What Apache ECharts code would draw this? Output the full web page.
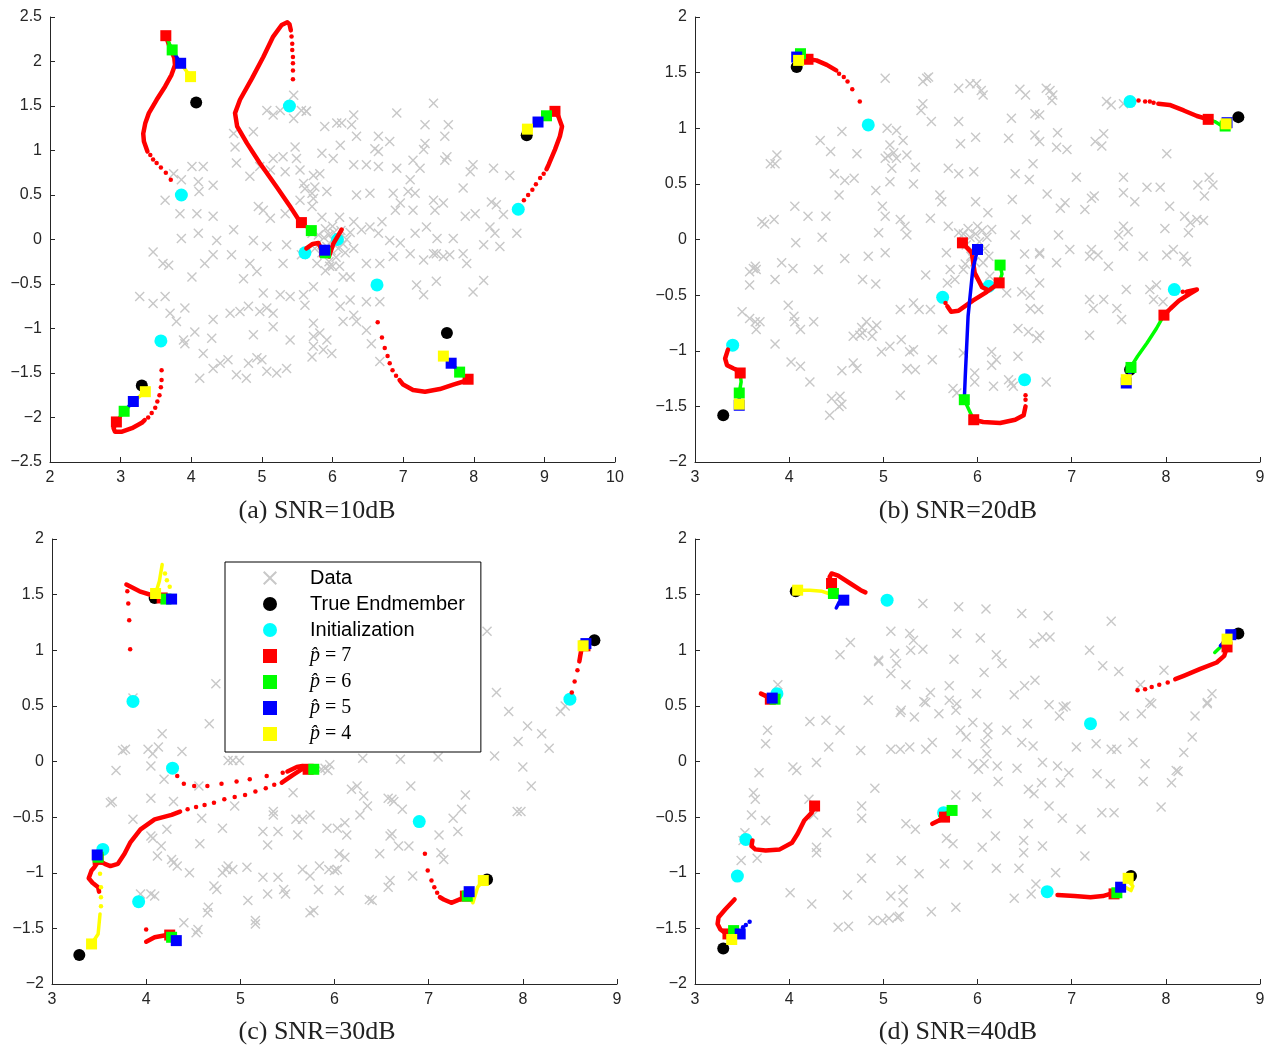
<!DOCTYPE html>
<html>
<head>
<meta charset="utf-8">
<script src="https://cdn.jsdelivr.net/npm/echarts@6/dist/echarts.min.js"></script>
<style>
  html, body { margin: 0; background: #fff; }
  #chart { width: 1276px; height: 1049px; }
</style>
</head>
<body>
<div id="chart"></div>
<script>
// ---------- panel (a) SNR=10dB ----------
const aData = [
  [5.45,1.62],[5.07,1.45],[5.16,1.40],[5.26,1.45],[5.56,1.45],[5.45,1.36],[5.63,1.44],[4.60,1.19],[4.88,1.21],[4.62,1.04],
  [5.47,1.04],[5.16,0.91],[5.30,0.93],[5.49,0.91],[4.64,0.86],[4.97,0.82],[4.83,0.71],[5.12,0.78],[5.33,0.76],[5.54,0.78],
  [5.73,0.72],[4.01,0.82],[4.17,0.82],[3.75,0.74],[3.86,0.67],[4.10,0.65],[4.11,0.54],[4.31,0.61],[3.63,0.44],[3.84,0.29],
  [4.08,0.29],[4.31,0.26],[4.60,0.11],[4.95,0.37],[5.02,0.33],[5.12,0.24],[5.33,0.29],[5.54,0.44],[5.59,0.63],[5.71,0.52],
  [5.71,0.37],[3.46,-0.14],[3.86,0.01],[4.10,0.07],[4.36,-0.01],[4.88,-0.01],[5.07,-0.08],[5.35,-0.06],[5.71,0.07],
  [5.63,1.44],[6.91,1.42],[7.43,1.53],[5.89,1.27],[6.06,1.31],[6.13,1.31],[6.27,1.29],[6.30,1.40],[7.31,1.29],[7.64,1.29],
  [6.34,1.16],[6.65,1.16],[6.11,1.06],[5.85,0.97],[6.01,0.91],[6.60,1.02],[6.65,0.99],[6.81,1.10],[7.31,1.08],[7.29,1.01],
  [7.59,1.16],[7.62,0.93],[6.30,0.84],[6.48,0.84],[6.65,0.82],[6.91,0.80],[7.14,0.89],[7.24,0.80],[7.59,0.89],[7.85,0.58],
  [7.99,0.84],[7.95,0.76],[8.28,0.80],[8.51,0.72],[5.82,0.74],[5.75,0.59],[5.73,0.46],[5.92,0.54],[5.61,0.57],[6.34,0.50],
  [6.53,0.52],[6.86,0.52],[7.10,0.67],[7.07,0.54],[7.17,0.52],[7.43,0.44],[7.57,0.41],[6.96,0.41],[6.89,0.33],[7.14,0.33],
  [7.45,0.33],[7.88,0.26],[8.02,0.29],[8.25,0.42],[8.32,0.39],[8.23,0.14],[8.30,0.07],[8.42,0.28],[6.53,0.14],[6.70,0.20],
  [6.65,0.07],[6.41,0.11],[6.96,-0.04],[6.81,-0.01],[7.17,0.07],[7.33,0.14],[7.48,0.01],[7.71,0.01],[8.14,-0.06],[8.37,-0.08],
  [8.61,0.07],[7.43,-0.16],[7.57,-0.19],[7.85,-0.16],
  [3.60,-0.27],[3.68,-0.29],[4.31,-0.17],[4.19,-0.27],[4.83,-0.27],[5.30,-0.27],[5.56,-0.17],[4.01,-0.42],[3.27,-0.64],[3.46,-0.72],
  [3.63,-0.64],[3.70,-0.83],[3.79,-0.92],[3.91,-0.77],[4.74,-0.44],[4.93,-0.36],[4.31,-0.90],[4.05,-1.04],[4.29,-1.11],[4.55,-0.83],
  [4.69,-0.81],[4.81,-0.75],[4.97,-0.81],[5.02,-0.60],[5.07,-0.77],[5.16,-0.83],[5.26,-0.62],[5.40,-0.64],[5.59,-0.62],[5.61,-0.74],
  [5.73,-0.94],[4.12,-1.56],[4.31,-1.45],[4.41,-1.39],[4.52,-1.35],[4.64,-1.52],[4.78,-1.56],[4.81,-1.39],[4.93,-1.33],[5.00,-1.35],
  [5.07,-1.48],[5.21,-1.50],[5.35,-1.45],[3.89,-1.13],[3.91,-1.17],[5.40,-1.13],[5.73,-1.09],[5.71,-1.32],[4.57,-0.17],[4.88,-1.07],
  [5.16,-0.98],[4.17,-1.28],
  [5.78,-0.27],[5.96,-0.30],[6.15,-0.42],[6.25,-0.42],[6.48,-0.27],[6.67,-0.27],[6.86,-0.19],[7.10,-0.16],[7.29,-0.23],[7.47,-0.16],
  [7.66,-0.17],[7.90,-0.27],[7.99,-0.59],[8.14,-0.46],[5.73,-0.53],[6.01,-0.60],[6.25,-0.68],[6.48,-0.70],[6.67,-0.70],[6.11,-0.75],
  [6.30,-0.85],[6.15,-0.92],[6.34,-0.92],[6.48,-1.02],[6.55,-1.17],[5.82,-1.05],[5.92,-1.13],[5.87,-1.24],[5.99,-1.28],[5.73,-1.20],
  [6.67,-1.37],[7.47,-0.47],[7.19,-0.51],[7.29,-0.62],
  [5.95,0.05],[6.00,0.00],[6.05,-0.05],[5.92,-0.08],[6.10,0.02],[6.02,0.08],[5.98,-0.12],[6.08,-0.10],[5.88,0.02],[6.15,-0.05],
  [6.00,0.15],[5.90,0.12],[6.12,0.10],[6.20,0.00],[5.85,-0.15],[6.05,-0.20],[5.95,-0.25],[6.18,-0.15],[5.80,0.05],[6.25,0.08],
  [6.00,-0.30],[5.90,-0.35],[6.10,-0.30],[6.30,-0.10],[5.75,-0.10],[6.30,0.20],[5.85,0.25],[6.10,0.25]
];
const aTrue = [[4.07,1.54],[8.75,1.17],[7.62,-1.05],[3.30,-1.64]];
const aInit = [[3.86,0.50],[5.39,1.50],[8.63,0.34],[6.63,-0.51],[3.57,-1.14],[5.61,-0.15],[6.07,0.00]];
const aRedDots = [
  [3.71,0.67],[3.64,0.75],[3.57,0.81],[3.51,0.86],[3.46,0.90],[3.42,0.95],
  [5.44,1.80],[5.44,1.90],[5.44,1.98],[5.44,2.05],[5.43,2.13],[5.43,2.20],[5.42,2.28],
  [8.71,0.44],[8.77,0.50],[8.83,0.56],[8.88,0.62],[8.94,0.69],[8.99,0.74],
  [6.64,-0.93],[6.70,-1.10],[6.74,-1.22],[6.78,-1.31],[6.81,-1.39],[6.85,-1.47],[6.90,-1.53],
  [3.58,-1.47],[3.58,-1.58],[3.57,-1.66],[3.55,-1.75],[3.52,-1.82],[3.49,-1.89],[3.44,-1.95],[3.39,-2.00]
];
const aRedPaths = [
  [[3.38,0.99],[3.33,1.10],[3.32,1.19],[3.35,1.31],[3.40,1.42],[3.51,1.57],[3.63,1.72],[3.72,1.85],[3.77,1.96],[3.76,2.04],[3.70,2.15],[3.64,2.29]],
  [[5.41,2.35],[5.39,2.42],[5.36,2.44],[5.28,2.41],[5.16,2.28],[5.02,2.05],[4.86,1.81],[4.69,1.57],[4.62,1.42],[4.65,1.27],[4.79,1.08],[4.97,0.86],[5.21,0.59],[5.40,0.37],[5.54,0.20],[5.56,0.19]],
  [[9.03,0.79],[9.06,0.84],[9.15,1.01],[9.22,1.16],[9.25,1.27],[9.20,1.38],[9.15,1.44]],
  [[6.95,-1.58],[7.00,-1.63],[7.14,-1.69],[7.31,-1.71],[7.52,-1.68],[7.71,-1.63],[7.88,-1.59],[7.92,-1.57]],
  [[3.34,-2.03],[3.30,-2.06],[3.16,-2.12],[3.02,-2.16],[2.92,-2.16],[2.90,-2.12],[2.94,-2.05]],
  [[5.63,-0.10],[5.72,-0.05],[5.80,-0.04],[5.88,-0.17],[5.95,-0.19],[6.01,-0.05],[6.13,0.11]]
];
const aGreenPaths = [[[3.64,2.29],[3.73,2.13]],[[5.56,0.19],[5.70,0.10]],[[9.15,1.44],[9.03,1.39]],[[7.92,-1.57],[7.80,-1.49]],[[2.94,-2.05],[3.05,-1.93]]];
const aBluePaths = [[[3.73,2.13],[3.85,1.98]],[[9.03,1.39],[8.91,1.32]],[[7.80,-1.49],[7.68,-1.39]],[[3.05,-1.93],[3.18,-1.82]]];
const aYellowPaths = [[[3.85,1.98],[3.99,1.83]],[[8.91,1.32],[8.76,1.24]],[[7.68,-1.39],[7.57,-1.31]],[[3.18,-1.82],[3.35,-1.71]]];
const aSqR = [[3.64,2.29],[5.56,0.19],[5.89,-0.14],[9.15,1.44],[7.92,-1.57],[2.94,-2.05]];
const aSqG = [[3.73,2.13],[5.70,0.10],[5.90,-0.15],[9.03,1.39],[7.80,-1.49],[3.05,-1.93]];
const aSqB = [[3.85,1.98],[5.89,-0.12],[8.91,1.32],[7.68,-1.39],[3.18,-1.82]];
const aSqY = [[3.99,1.83],[8.76,1.24],[7.57,-1.31],[3.35,-1.71]];

// ---------- panel (b) SNR=20dB ----------
const bData = [
  [5.02,1.45],[5.42,1.42],[5.46,1.45],[5.48,1.46],[5.42,1.22],[5.40,1.16],[5.51,1.06],[5.80,1.36],[5.80,1.06],[5.04,1.00],
  [5.14,0.98],[5.21,0.89],[5.07,0.85],[5.11,0.78],[5.14,0.73],[5.05,0.75],[5.25,0.76],[5.02,0.73],[5.34,0.65],[5.09,0.64],
  [5.07,0.52],[5.32,0.50],[5.69,0.64],[5.80,0.59],[4.33,0.89],[4.44,0.79],[4.56,0.97],[4.72,0.77],[4.48,0.59],[4.59,0.53],
  [4.69,0.55],[4.53,0.40],[3.80,0.68],[3.85,0.68],[3.87,0.76],[4.06,0.30],[4.20,0.21],[4.39,0.21],[4.35,0.02],[4.07,-0.03],
  [3.71,0.16],[3.74,0.14],[3.84,0.18],[4.92,0.44],[4.99,0.30],[5.02,0.21],[4.95,0.06],[5.18,0.18],[5.23,0.12],[5.25,0.04],
  [5.50,0.19],[5.60,0.40],[5.62,0.34],[5.69,0.12],[5.80,0.06],[5.02,-0.12],[5.67,-0.12],
  [5.92,1.40],[5.99,1.40],[6.04,1.34],[6.06,1.30],[6.45,1.35],[6.51,1.30],[6.73,1.36],[6.77,1.34],[6.80,1.30],[6.79,1.25],
  [7.37,1.24],[7.42,1.21],[7.55,1.22],[6.36,1.09],[6.61,1.13],[6.66,1.12],[5.98,0.92],[5.82,0.86],[6.33,0.91],[6.61,0.94],
  [6.66,0.88],[6.85,0.96],[6.84,0.83],[6.95,0.81],[7.25,0.88],[7.32,0.84],[7.34,0.95],[8.01,0.77],[6.59,0.68],[5.96,0.61],
  [6.40,0.59],[6.55,0.54],[7.05,0.56],[7.55,0.56],[7.55,0.42],[7.67,0.34],[7.80,0.47],[7.94,0.47],[8.34,0.49],[8.46,0.56],
  [8.50,0.49],[8.41,0.39],[6.74,0.41],[6.93,0.33],[7.21,0.37],[7.24,0.39],[7.14,0.27],[6.88,0.28],[5.98,0.34],[6.37,0.36],
  [6.11,0.24],[6.52,0.18],[8.04,0.30],[8.20,0.21],[8.26,0.15],[8.33,0.18],[8.40,0.17],[8.24,0.06],[7.99,0.10],[7.55,0.12],
  [7.60,0.07],[7.50,0.04],[6.86,0.04],[6.40,0.04],[6.15,0.09],[6.66,-0.12],[6.98,-0.09],[7.21,-0.09],[7.55,-0.06],[7.76,-0.15],
  [8.08,-0.09],[8.19,-0.15],
  [3.58,-0.29],[3.62,-0.26],[3.65,-0.27],[3.64,-0.24],[3.58,-0.41],[3.85,-0.36],[3.92,-0.21],[4.04,-0.26],[4.31,-0.27],[4.59,-0.17],
  [4.84,-0.15],[4.78,-0.36],[4.92,-0.40],[3.50,-0.65],[3.58,-0.71],[3.64,-0.74],[3.69,-0.74],[3.65,-0.81],[3.99,-0.59],[4.05,-0.69],
  [4.06,-0.74],[4.12,-0.81],[4.26,-0.74],[3.85,-0.94],[4.02,-1.10],[4.12,-1.14],[4.22,-1.28],[4.56,-1.18],[4.68,-1.11],[4.72,-1.16],
  [4.68,-0.87],[4.75,-0.86],[4.77,-0.79],[4.78,-0.84],[4.82,-0.74],[4.88,-0.87],[4.89,-0.80],[4.93,-0.77],[4.98,-1.01],[5.07,-0.96],
  [5.19,-0.90],[5.28,-1.01],[5.32,-0.99],[5.25,-1.16],[5.34,-1.17],[5.52,-1.08],[4.45,-1.43],[4.54,-1.41],[4.56,-1.48],[4.53,-1.50],
  [4.43,-1.58],[5.18,-1.40],[5.18,-0.63],[5.45,-0.32],[5.32,-0.57],[5.38,-0.63],[5.50,-0.63],[5.71,-0.27],[5.68,-0.39],[5.63,-0.81],
  [5.76,-0.36],[5.85,-0.27],[5.74,-1.34],[5.78,-1.38],[5.97,-1.20],[6.15,-1.13],[6.17,-1.32],[5.97,-1.28],[6.36,-1.29],[6.38,-1.32],
  [6.33,-1.26],[6.73,-1.28],[6.43,-1.05],[6.20,-1.08],[6.15,-1.01],[6.56,-0.27],[6.66,-0.39],[6.56,-0.50],[6.56,-0.62],[6.65,-0.63],
  [6.43,-0.80],[6.54,-0.83],[6.63,-0.89],[6.66,-0.86],[6.47,-0.47],[6.31,-0.48],[6.13,-0.33],[6.06,-0.21],[5.85,-1.02],[6.50,-0.13],
  [6.66,-0.13],[6.84,-0.21],[7.19,-0.15],[7.28,-0.14],[7.39,-0.24],[7.19,-0.54],[7.23,-0.62],[7.34,-0.54],[7.48,-0.62],[7.53,-0.72],
  [7.19,-0.86],[7.58,-0.45],[7.83,-0.45],[7.90,-0.41],[7.97,-0.56],[7.87,-0.54],[8.01,-0.14],[8.22,-0.20],
  [5.88,-0.05],[5.92,0.02],[5.95,-0.10],[5.98,0.05],[6.02,-0.02],[6.05,0.08],[5.90,0.10],[6.08,-0.08],[5.93,-0.15],[6.10,0.02],
  [5.85,0.05],[6.00,0.12],[5.97,-0.20],[6.12,-0.15],[5.87,-0.22]
];
const bTrue = [[4.08,1.55],[8.77,1.10],[3.30,-1.58],[7.62,-1.17]];
const bInit = [[4.84,1.03],[7.62,1.24],[3.40,-0.95],[5.63,-0.52],[6.12,-0.42],[6.50,-1.26],[8.09,-0.45]];
const bRedDots = [
  [4.53,1.49],[4.58,1.46],[4.62,1.42],[4.67,1.35],[4.75,1.24],
  [7.71,1.25],[7.78,1.24],[7.83,1.24],[7.87,1.23],
  [5.66,-0.57],[6.51,-1.44],[6.51,-1.40],[8.18,-0.47]
];
const bRedPaths = [
  [[4.50,1.52],[4.40,1.57],[4.29,1.61],[4.20,1.62]],
  [[7.92,1.22],[8.04,1.21],[8.19,1.16],[8.33,1.11],[8.45,1.08]],
  [[3.35,-0.99],[3.32,-1.07],[3.34,-1.13],[3.41,-1.16],[3.46,-1.18],[3.48,-1.20]],
  [[5.68,-0.60],[5.72,-0.65],[5.80,-0.64],[5.95,-0.55],[6.10,-0.47],[6.23,-0.39]],
  [[6.10,-0.45],[6.05,-0.43],[5.97,-0.30],[5.94,-0.12],[5.84,-0.03]],
  [[6.51,-1.50],[6.49,-1.58],[6.40,-1.62],[6.24,-1.65],[6.06,-1.64],[5.96,-1.62]],
  [[8.22,-0.47],[8.33,-0.45],[8.25,-0.49],[8.14,-0.55],[8.05,-0.62],[7.98,-0.68]]
];
const bGreenPaths = [
  [[4.20,1.62],[4.12,1.67]],
  [[8.45,1.08],[8.52,1.06],[8.58,1.03],[8.63,1.02]],
  [[3.48,-1.20],[3.49,-1.28],[3.47,-1.38]],
  [[6.23,-0.39],[6.26,-0.31],[6.24,-0.23]],
  [[5.96,-1.62],[5.92,-1.55],[5.86,-1.44]],
  [[7.98,-0.68],[7.90,-0.80],[7.80,-0.93],[7.70,-1.05],[7.64,-1.13],[7.63,-1.15]]
];
const bBluePaths = [
  [[4.12,1.67],[4.08,1.64]],
  [[3.47,-1.38],[3.47,-1.49]],
  [[5.86,-1.44],[5.87,-1.23],[5.90,-0.69],[5.95,-0.27],[6.00,-0.09]],
  [[7.63,-1.15],[7.62,-1.20],[7.58,-1.29]]
];
const bYellowPaths = [[[4.08,1.64],[4.10,1.61]],[[7.58,-1.29],[7.58,-1.26]]];
const bSqR = [[4.20,1.62],[8.45,1.08],[3.48,-1.20],[5.84,-0.03],[6.23,-0.39],[5.96,-1.62],[7.98,-0.68]];
const bSqG = [[4.12,1.67],[8.63,1.02],[3.47,-1.38],[6.24,-0.23],[5.86,-1.44],[7.63,-1.15]];
const bSqB = [[4.08,1.64],[8.65,1.05],[3.47,-1.49],[6.00,-0.09],[7.58,-1.29]];
const bSqY = [[4.10,1.61],[8.64,1.04],[3.47,-1.48],[7.58,-1.26]];

// ---------- panel (c) SNR=30dB ----------
const cData = [
  [3.62,-0.37],[3.64,-0.36],[3.86,-0.52],[4.05,-0.33],[4.29,-0.36],[4.05,-0.67],[4.07,-0.69],[4.16,-0.76],[4.22,-0.61],[4.12,-0.85],
  [4.27,-0.88],[4.29,-0.91],[4.33,-0.94],[4.46,-1.00],[4.57,-0.74],[4.81,-0.60],[4.81,-1.00],[4.85,-0.97],[4.87,-0.94],[4.75,-1.15],
  [4.72,-1.12],[4.66,-1.31],[4.65,-1.36],[4.40,-1.45],[4.53,-1.54],[4.55,-1.51],[3.94,-1.19],[4.05,-1.19],[4.09,-1.21],[4.94,-0.40],
  [4.92,-0.97],[4.56,-0.22],[4.59,-0.51],[5.07,-0.95],[5.24,-1.04],[5.24,-0.63],[5.29,-0.75],[5.29,-1.19],[5.40,-0.63],[5.40,-1.04],
  [5.46,-1.15],[5.48,-1.19],[5.08,-1.25],[5.16,-1.43],[5.16,-1.46],[5.35,-0.45],[5.35,-0.48],[5.56,-0.28],[5.59,-0.52],[5.66,-0.52],
  [5.74,-0.48],[5.61,-0.66],[5.66,-0.97],[5.74,-1.36],[5.78,-1.34],[5.83,-1.15],[5.84,-0.94],[5.92,-0.60],[5.94,-0.97],[6.00,-0.98],
  [6.03,-0.97],[6.03,-0.60],[6.05,-0.83],[6.05,-1.16],[6.11,-0.55],[6.13,-0.66],[6.18,-0.25],[6.24,-0.22],[6.31,-0.31],[6.35,-0.40],
  [6.27,-0.48],[6.37,-1.24],[6.40,-1.25],[6.48,-0.83],[6.57,-0.33],[6.61,-0.34],[6.59,-0.67],[6.57,-1.13],[6.63,-0.36],[6.68,-0.76],
  [6.72,-0.43],[6.79,-0.76],[6.83,-1.03],[6.81,-0.22],[7.11,-0.66],[7.13,-0.82],[7.16,-0.88],[7.26,-0.51],[7.31,-0.63],[7.35,-0.43],
  [7.39,-0.30],[7.94,-0.45],[7.98,-0.45],[8.09,-0.22],[6.59,-1.07],[5.74,-1.03],[6.61,-0.65],[6.11,-0.86],
  [4.74,0.70],[4.67,0.34],[4.17,0.25],[4.38,0.09],[4.13,0.13],[4.07,0.07],[4.02,0.11],[4.05,-0.04],[3.75,0.10],[3.78,0.11],
  [3.68,-0.08],[4.19,-0.16],[4.87,0.01],[4.92,0.01],[4.99,0.01],[3.86,0.57],[5.86,-0.07],[5.90,-0.06],[5.93,-0.08],
  [7.62,1.17],[7.72,0.62],[7.85,0.45],[8.05,0.32],[8.20,0.25],[8.28,0.12],[7.95,0.18],[8.40,0.45],[8.45,0.50],[7.70,0.05],
  [8.00,-0.05],[5.95,-0.03],[6.30,0.03],[6.70,0.02],[7.10,0.04]
];
const cTrue = [[4.09,1.47],[8.76,1.09],[3.29,-1.74],[7.62,-1.06]];
const cInit = [[3.86,0.54],[4.28,-0.06],[8.50,0.56],[3.54,-0.79],[3.92,-1.26],[6.90,-0.54]];
const cRedDots = [
  [3.83,1.01],[3.82,1.27],[3.81,1.42],[3.80,1.53],
  [4.33,-0.13],[4.40,-0.20],[4.51,-0.22],[4.65,-0.22],[4.80,-0.20],[4.96,-0.18],[5.10,-0.16],[5.28,-0.13],[5.45,-0.10],
  [4.44,-0.43],[4.53,-0.41],[4.62,-0.39],[4.72,-0.37],[4.83,-0.34],[4.94,-0.32],[5.05,-0.30],[5.16,-0.27],[5.27,-0.24],[5.36,-0.21],
  [4.00,-1.51],
  [6.96,-0.83],[6.99,-0.98],[7.03,-1.07],[7.06,-1.13],[7.09,-1.18],
  [8.52,0.62],[8.55,0.72],[8.58,0.82]
];
const cYellowDots = [[4.20,1.69],[4.22,1.63],[4.25,1.57],[3.52,-1.22],[3.52,-1.13],[3.51,-1.01],[3.52,-1.30]];
const cRedPaths = [
  [[3.79,1.59],[3.93,1.53],[4.08,1.49],[4.17,1.47]],
  [[5.50,-0.09],[5.60,-0.05],[5.66,-0.04],[5.72,-0.07]],
  [[3.49,-0.89],[3.56,-0.92],[3.62,-0.94],[3.70,-0.92],[3.77,-0.83],[3.83,-0.73],[3.94,-0.61],[4.09,-0.52],[4.27,-0.48],[4.36,-0.45]],
  [[5.44,-0.19],[5.56,-0.12],[5.65,-0.07],[5.72,-0.07]],
  [[3.49,-0.90],[3.45,-0.95],[3.42,-0.98],[3.39,-1.05],[3.43,-1.09],[3.49,-1.13],[3.50,-1.17]],
  [[4.00,-1.62],[4.09,-1.58],[4.22,-1.56],[4.25,-1.56]],
  [[7.12,-1.22],[7.16,-1.24],[7.24,-1.27],[7.33,-1.24],[7.39,-1.21]],
  [[8.60,0.90],[8.62,1.00],[8.66,1.04]]
];
const cGreenPaths = [[[4.17,1.47],[4.21,1.46]],[[5.72,-0.07],[5.78,-0.07]],[[7.39,-1.21],[7.41,-1.21]]];
const cBluePaths = [[[4.21,1.46],[4.27,1.46]],[[7.41,-1.21],[7.43,-1.17]]];
const cYellowPaths = [
  [[4.10,1.51],[4.14,1.62],[4.17,1.77]],
  [[3.42,-1.64],[3.49,-1.55],[3.51,-1.37]],
  [[7.43,-1.21],[7.47,-1.27],[7.52,-1.13],[7.56,-1.09],[7.58,-1.07]]
];
const cSqR = [[4.17,1.47],[5.72,-0.07],[3.49,-0.88],[4.25,-1.56],[7.39,-1.21],[8.66,1.04]];
const cSqG = [[4.21,1.46],[5.78,-0.07],[3.49,-0.86],[4.27,-1.58],[7.41,-1.21]];
const cSqB = [[4.27,1.46],[3.48,-0.84],[4.32,-1.61],[7.43,-1.17],[8.67,1.06]];
const cSqY = [[4.10,1.51],[3.42,-1.64],[7.58,-1.07],[8.64,1.04]];

// ---------- panel (d) SNR=40dB ----------
const dData = [
  [5.42,1.42],[5.80,1.39],[6.09,1.37],[6.47,1.33],[6.75,1.31],[7.42,1.26],[7.19,1.00],[7.33,0.86],[7.50,0.81],[6.60,1.06],
  [6.69,1.12],[6.77,1.12],[4.65,1.07],[4.54,0.96],[5.08,1.17],[5.28,1.15],[5.32,1.09],[5.29,1.00],[5.42,1.01],[4.95,0.90],
  [5.14,0.88],[5.12,0.97],[5.08,0.79],[5.24,0.69],[5.50,0.62],[5.45,0.53],[5.18,0.44],[5.33,0.40],[5.59,0.43],[5.70,0.55],
  [5.77,0.46],[5.99,0.61],[5.78,1.15],[6.03,1.11],[6.20,0.96],[6.26,0.88],[6.07,0.80],[5.75,0.92],[6.39,0.60],[6.50,0.68],
  [6.61,0.73],[6.76,0.51],[6.87,0.41],[6.91,0.49],[6.94,0.50],[7.73,0.69],[7.83,0.53],[7.98,0.82],[7.85,0.52],[7.56,0.41],
  [7.65,0.17],[7.78,-0.02],[8.11,-0.08],[8.19,0.08],[8.28,0.22],[8.31,0.41],[8.44,0.53],[8.49,0.61],[8.44,0.52],[7.74,0.43],
  [7.48,0.11],[7.42,0.11],[7.26,0.16],[7.05,0.13],[6.97,-0.10],[6.85,-0.04],[6.69,-0.01],[6.68,-0.19],[6.53,0.34],
  [6.59,0.14],[6.47,0.17],[6.31,0.28],[6.21,-0.04],[6.42,-0.06],[6.11,0.31],[6.11,0.24],[6.10,0.07],[6.08,0.16],
  [6.07,-0.02],[5.95,-0.02],[6.01,-0.07],[5.95,0.35],[5.82,0.28],[5.88,0.22],[5.78,0.07],[5.78,0.52],[5.52,0.17],[5.43,0.54],
  [5.45,0.11],[5.70,0.68],[5.19,0.46],[5.08,0.11],[5.18,0.11],[5.28,0.13],[4.84,0.55],[4.76,0.10],[4.54,0.28],[4.42,0.13],
  [4.29,-0.01],[4.39,0.37],[4.22,0.36],[4.04,-0.05],[4.08,-0.08],[3.75,0.16],[3.77,0.28],[3.88,0.69],[3.68,-0.10],[4.95,0.91],
  [7.27,-0.11],[8.13,-0.09],
  [3.62,-0.28],[3.64,-0.34],[3.60,-0.48],[3.75,-0.53],[3.53,-0.64],[3.51,-0.71],[3.66,-0.87],[3.49,-0.89],[4.01,-1.18],[4.24,-1.28],
  [4.29,-0.77],[4.29,-0.82],[4.26,-0.48],[4.21,-0.34],[4.40,-0.64],[4.77,-0.40],[4.77,-0.51],[4.91,-0.24],[4.77,-1.05],[4.87,-0.87],
  [4.62,-1.20],[4.52,-1.49],[4.63,-1.48],[4.89,-1.43],[4.99,-1.43],[5.06,-1.41],[5.15,-1.40],[5.17,-1.39],[5.08,-1.21],[5.21,-1.27],
  [5.21,-1.15],[5.19,-0.89],[5.24,-0.56],[5.34,-0.61],[5.38,-1.01],[5.51,-1.35],[5.65,-0.92],[5.67,-0.69],[5.74,-0.74],[5.77,-1.31],
  [5.77,-0.30],[5.90,-0.93],[5.99,-0.32],[6.05,-0.77],[6.10,-0.47],[6.19,-0.67],[6.20,-0.96],[6.22,-0.18],[6.39,-1.23],[6.44,-0.96],
  [6.49,-0.71],[6.49,-0.82],[6.54,-0.56],[6.54,-0.25],[6.57,-1.19],[6.60,-0.29],[6.62,-1.10],[6.69,-0.76],[6.76,-0.40],[6.83,-1.00],
  [6.90,-0.51],[7.10,-0.61],[7.14,-0.85],[7.32,-0.46],[7.45,-0.46],[6.88,-0.19],[7.41,-0.20],[7.76,-0.18],[7.95,-0.41],[8.06,-0.19]
];
const dTrue = [[4.07,1.53],[8.77,1.15],[3.30,-1.68],[7.63,-1.03]];
const dInit = [[5.04,1.45],[3.87,0.61],[7.20,0.34],[3.54,-0.70],[3.45,-1.03],[5.64,-0.46],[6.74,-1.17]];
const dRedDots = [[7.70,0.64],[7.78,0.65],[7.85,0.67],[7.93,0.69],[8.02,0.71]];
const dBlueDots = [[3.51,-1.49],[3.54,-1.47],[3.58,-1.44]];
const dRedPaths = [
  [[4.81,1.52],[4.76,1.54],[4.65,1.60],[4.52,1.67],[4.45,1.69],[4.43,1.66],[4.45,1.60]],
  [[3.70,0.61],[3.75,0.59],[3.80,0.56]],
  [[8.10,0.74],[8.19,0.77],[8.36,0.83],[8.54,0.89],[8.62,0.95],[8.65,1.03]],
  [[3.61,-0.71],[3.60,-0.76],[3.64,-0.79],[3.75,-0.80],[3.90,-0.79],[4.03,-0.73],[4.09,-0.65],[4.16,-0.53],[4.24,-0.46],[4.27,-0.40]],
  [[3.42,-1.24],[3.32,-1.33],[3.25,-1.40],[3.24,-1.46],[3.27,-1.51],[3.32,-1.54],[3.35,-1.55]],
  [[5.52,-0.56],[5.59,-0.53],[5.65,-0.50]],
  [[6.85,-1.20],[7.03,-1.21],[7.20,-1.22],[7.33,-1.21],[7.41,-1.19],[7.45,-1.19]]
];
const dGreenPaths = [[[4.42,1.57],[4.47,1.51]],[[5.60,-0.49],[5.73,-0.44]],[[8.52,0.98],[8.62,1.06]],[[3.35,-1.55],[3.41,-1.52]],[[7.45,-1.19],[7.48,-1.18]]];
const dBluePaths = [[[4.50,1.38],[4.53,1.43],[4.58,1.45]],[[8.58,1.04],[8.69,1.14]],[[3.41,-1.52],[3.48,-1.55]],[[7.48,-1.18],[7.52,-1.13]]];
const dYellowPaths = [
  [[4.42,1.51],[4.35,1.53],[4.22,1.54],[4.09,1.54]],
  [[3.37,-1.52],[3.39,-1.60]],
  [[7.52,-1.13],[7.57,-1.13],[7.63,-1.16],[7.65,-1.12],[7.59,-1.06],[7.60,-1.05]],
  [[8.69,1.14],[8.65,1.10]]
];
const dSqR = [[4.45,1.60],[3.80,0.56],[8.65,1.03],[4.27,-0.40],[3.35,-1.55],[5.65,-0.50],[7.45,-1.19]];
const dSqG = [[4.47,1.51],[3.85,0.56],[5.73,-0.44],[3.41,-1.52],[7.48,-1.18]];
const dSqB = [[4.58,1.45],[3.82,0.57],[8.69,1.14],[3.48,-1.55],[7.52,-1.13]];
const dSqY = [[4.09,1.54],[8.65,1.10],[3.39,-1.60],[7.60,-1.05]];

const captions = ['(a) SNR=10dB', '(b) SNR=20dB', '(c) SNR=30dB', '(d) SNR=40dB'];

const RED = '#ff0000', GREEN = '#00ff00', BLUE = '#0000ff', YELLOW = '#ffff00';
const xIcon = 'path://M0,1L1,0L5,4L9,0L10,1L6,5L10,9L9,10L5,6L1,10L0,9L4,5Z';

const panels = [
  { grid: { left: 50, top: 17, width: 565, height: 445 }, xr: [2, 10], yr: [-2.5, 2.5], cx: 317, cy: 511,
    data: aData, tru: aTrue, init: aInit, rdots: aRedDots, ydots: [], bdots: [],
    red: aRedPaths, green: aGreenPaths, blue: aBluePaths, yellow: aYellowPaths, sq: [aSqR, aSqG, aSqB, aSqY] },
  { grid: { left: 695, top: 17, width: 565, height: 445 }, xr: [3, 9], yr: [-2, 2], cx: 958, cy: 511,
    data: bData, tru: bTrue, init: bInit, rdots: bRedDots, ydots: [], bdots: [],
    red: bRedPaths, green: bGreenPaths, blue: bBluePaths, yellow: bYellowPaths, sq: [bSqR, bSqG, bSqB, bSqY] },
  { grid: { left: 52, top: 539, width: 565, height: 445 }, xr: [3, 9], yr: [-2, 2], cx: 317, cy: 1032,
    data: cData, tru: cTrue, init: cInit, rdots: cRedDots, ydots: cYellowDots, bdots: [],
    red: cRedPaths, green: cGreenPaths, blue: cBluePaths, yellow: cYellowPaths, sq: [cSqR, cSqG, cSqB, cSqY] },
  { grid: { left: 695, top: 539, width: 565, height: 445 }, xr: [3, 9], yr: [-2, 2], cx: 958, cy: 1032,
    data: dData, tru: dTrue, init: dInit, rdots: dRedDots, ydots: [], bdots: dBlueDots,
    red: dRedPaths, green: dGreenPaths, blue: dBluePaths, yellow: dYellowPaths, sq: [dSqR, dSqG, dSqB, dSqY] }
];

const axisColor = '#262626';
function makeAxis(i, range, step) {
  return {
    type: 'value', gridIndex: i, min: range[0], max: range[1], interval: step,
    axisLine: { show: true, onZero: false, lineStyle: { color: axisColor, width: 1 } },
    axisTick: { show: true, inside: true, length: 5, lineStyle: { color: axisColor } },
    splitLine: { show: false },
    axisLabel: {
      color: axisColor, fontFamily: 'Liberation Sans', fontSize: 16, margin: 8,
      showMinLabel: true, showMaxLabel: true,
      formatter: v => String(v).replace('-', '\u2212')
    }
  };
}

const grids = [], xAxes = [], yAxes = [], series = [];

panels.forEach((p, i) => {
  grids.push(p.grid);
  xAxes.push(makeAxis(i, p.xr, 1));
  yAxes.push(makeAxis(i, p.yr, 0.5));
  const on = { xAxisIndex: i, yAxisIndex: i, animation: false, silent: true };
  const dots = (name, d, color, size, z, symbol) => ({
    ...on, type: 'scatter', name, data: d, symbol: symbol || 'circle', symbolSize: size,
    itemStyle: { color, opacity: 1 }, z
  });
  const line = (d, color, w) => ({
    ...on, type: 'line', name: 'track', data: d, symbol: 'none', showSymbol: false,
    lineStyle: { color, width: w, cap: 'round', join: 'round' }, z: 4
  });

  series.push(dots('Data', p.data, '#c8c8c8', 10, 1, xIcon));
  series.push(dots('True Endmember', p.tru, '#000000', 12, 2));
  series.push(dots('Initialization', p.init, '#00ffff', 13, 3));
  series.push(dots('track', p.rdots, RED, 4.5, 4));
  series.push(dots('track', p.ydots, YELLOW, 4.5, 4));
  series.push(dots('track', p.bdots, BLUE, 4.5, 4));
  p.red.forEach(d => series.push(line(d, RED, 4.5)));
  p.green.forEach(d => series.push(line(d, GREEN, 3.5)));
  p.blue.forEach(d => series.push(line(d, BLUE, 3.5)));
  p.yellow.forEach(d => series.push(line(d, YELLOW, 3.5)));
  const sqColors = [RED, GREEN, BLUE, YELLOW];
  const sqNames = ['p7', 'p6', 'p5', 'p4'];
  p.sq.forEach((d, k) => series.push(dots(sqNames[k], d, sqColors[k], 11, 6 + k, 'rect')));
});

const graphics = panels.map((p, i) => ({
  type: 'text', x: p.cx, y: p.cy,
  style: {
    text: captions[i], textAlign: 'center', textVerticalAlign: 'middle',
    font: '26px "Liberation Serif"', fill: '#222'
  }
}));

const option = {
  backgroundColor: '#ffffff',
  animation: false,
  grid: grids,
  xAxis: xAxes,
  yAxis: yAxes,
  graphic: graphics,
  legend: {
    orient: 'vertical', left: 225, top: 562,
    padding: [6, 16, 8, 38], itemGap: 6, itemWidth: 14, itemHeight: 14,
    backgroundColor: '#ffffff', borderColor: '#000000', borderWidth: 1, borderRadius: 0,
    selectedMode: false,
    data: [
      { name: 'Data', icon: xIcon },
      { name: 'True Endmember', icon: 'circle' },
      { name: 'Initialization', icon: 'circle' },
      { name: 'p7', icon: 'rect' },
      { name: 'p6', icon: 'rect' },
      { name: 'p5', icon: 'rect' },
      { name: 'p4', icon: 'rect' }
    ],
    formatter: name => name.charAt(0) === 'p' && name.length === 2
      ? '{h|p\u0302}{v| = ' + name.charAt(1) + '}'
      : name,
    textStyle: {
      fontFamily: 'Liberation Sans', fontSize: 20, color: '#000', lineHeight: 20,
      padding: [0, 0, 0, 28],
      rich: {
        h: { fontFamily: 'Liberation Serif', fontStyle: 'italic', fontSize: 20, lineHeight: 20, color: '#000' },
        v: { fontFamily: 'Liberation Serif', fontSize: 20, lineHeight: 20, color: '#000' }
      }
    }
  },
  series: series
};

const chart = echarts.init(document.getElementById('chart'), null, { renderer: 'canvas' });
chart.setOption(option);
</script>
</body>
</html>
